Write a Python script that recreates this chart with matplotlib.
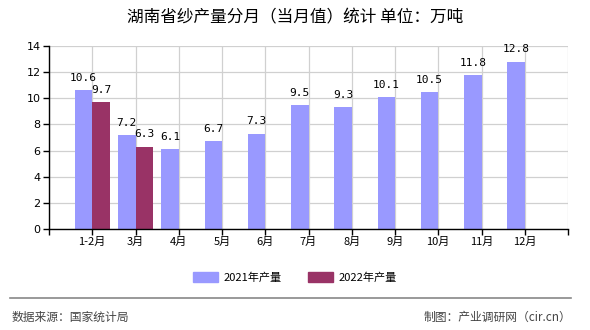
import matplotlib
matplotlib.use("Agg")
import matplotlib.pyplot as plt
from matplotlib.patches import Patch

plt.rcParams['font.family'] = ['Noto Sans CJK SC', 'DejaVu Sans']

months = ["1-2月", "3月", "4月", "5月", "6月", "7月", "8月", "9月", "10月", "11月", "12月"]
output_2021 = [10.6, 7.2, 6.1, 6.7, 7.3, 9.5, 9.3, 10.1, 10.5, 11.8, 12.8]
output_2022 = [9.7, 6.3]
series_names = ["2021年产量", "2022年产量"]
color_2021 = "#9999FF"
color_2022 = "#993366"

fig = plt.figure(figsize=(5.9, 3.3), dpi=100)
ax = fig.add_axes([49/590, 1-229/330, (568-49)/590, (229-46)/330])

w = 0.4
x = list(range(len(months)))
ax.bar([i - w/2 for i in x], output_2021, width=w, color=color_2021, zorder=3)
x22 = x[:len(output_2022)]
ax.bar([i + w/2 for i in x22], output_2022, width=w, color=color_2022, zorder=3)

label_font = dict(family='DejaVu Sans Mono', fontsize=8)
for i, v in enumerate(output_2021):
    ax.text(i - w/2, v + 0.55, f"{v:.1f}", ha='center', va='bottom', **label_font)
for i, v in enumerate(output_2022):
    ax.text(i + w/2, v + 0.55, f"{v:.1f}", ha='center', va='bottom', **label_font)

ax.set_xlim(-1, len(months))
ax.set_ylim(0, 14)
ax.set_yticks(range(0, 15, 2))
ax.set_yticklabels([str(t) for t in range(0, 15, 2)], fontsize=8, family='DejaVu Sans')
ax.set_xticks(range(-1, len(months) + 1))
ax.set_xticklabels([""] + months + [""], fontsize=8)
ax.tick_params(axis='both', length=4, width=1, color='black', pad=2)
ax.grid(True, color='#d0d0d0', linewidth=0.9, zorder=0)

for s in ['top', 'right']:
    ax.spines[s].set_visible(False)
for s in ['left', 'bottom']:
    ax.spines[s].set_color('black')
    ax.spines[s].set_linewidth(1)
    ax.spines[s].set_zorder(4)

fig.text(0.5, 1-18/330, "湖南省纱产量分月（当月值）统计 单位：万吨", ha='center', va='center', fontsize=12)

handles = [Patch(color=color_2021), Patch(color=color_2022)]
fig.legend(handles, series_names, loc='center', bbox_to_anchor=(0.5, 1-277/330), ncol=2,
           frameon=False, fontsize=8, handlelength=2.2, handleheight=1.0, columnspacing=2.4,
           handletextpad=0.5)

fig.add_artist(plt.Line2D([10/590, 571/590], [1-298/330, 1-298/330], color='#888888', linewidth=1.2))
fig.text(12/590, 1-317/330, "数据来源：国家统计局", ha='left', va='center', fontsize=8.5, color='#444444')
fig.text(571/590, 1-317/330, "制图：产业调研网（cir.cn）", ha='right', va='center', fontsize=8.5, color='#444444')

fig.savefig("out.png", dpi=100)
